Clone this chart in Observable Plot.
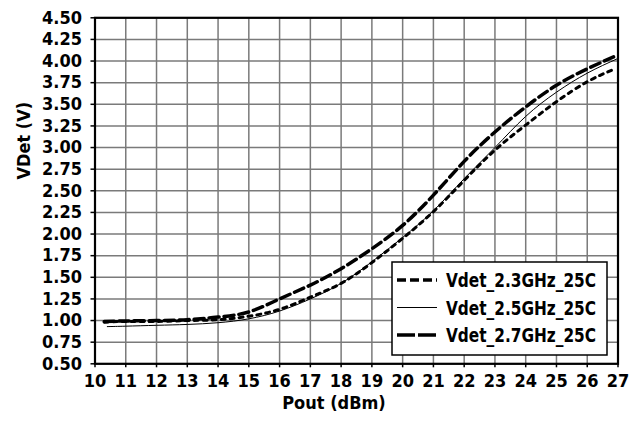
<!DOCTYPE html>
<html><head><meta charset="utf-8">
<script src="https://cdn.jsdelivr.net/npm/d3@7"></script>
<script src="https://cdn.jsdelivr.net/npm/@observablehq/plot@0.6"></script>
<style>body{margin:0;background:#fff}#chart{position:relative;width:636px;height:426px}
svg text{font-stretch:condensed}</style>
</head><body><div id="chart"></div>
<script>
// Data
const pout23 = [10.3, 11, 12, 13, 14, 15, 16, 17, 18, 19, 20, 21, 22, 23, 24, 25, 26, 27];
const vdet23 = [0.99, 0.995, 1.0, 1.01, 1.04, 1.10, 1.25, 1.41, 1.60, 1.83, 2.10, 2.45, 2.84, 3.18, 3.47, 3.72, 3.91, 4.07];
const pout25 = [10.4, 11, 12, 13, 14, 15, 16, 17, 18, 19, 20, 21, 22, 23, 24, 25, 26, 27];
const vdet25 = [0.93, 0.935, 0.945, 0.955, 0.975, 1.02, 1.11, 1.25, 1.43, 1.68, 1.96, 2.27, 2.64, 3.00, 3.36, 3.64, 3.86, 4.03];
const pout27 = [10.3, 11, 12, 13, 14, 15, 16, 17, 18, 19, 20, 21, 22, 23, 24, 25, 26, 26.9];
const vdet27 = [0.98, 0.99, 0.99, 1.0, 1.01, 1.05, 1.13, 1.27, 1.43, 1.67, 1.95, 2.26, 2.62, 2.97, 3.26, 3.53, 3.76, 3.91];
const seriesNames = ["Vdet_2.3GHz_25C", "Vdet_2.5GHz_25C", "Vdet_2.7GHz_25C"];
const xTicks = [10, 11, 12, 13, 14, 15, 16, 17, 18, 19, 20, 21, 22, 23, 24, 25, 26, 27];
const yTicks = [0.5, 0.75, 1.0, 1.25, 1.5, 1.75, 2.0, 2.25, 2.5, 2.75, 3.0, 3.25, 3.5, 3.75, 4.0, 4.25, 4.5];
const xTitle = "Pout (dBm)";
const yTitle = "VDet (V)";

const rows = (px, vy, name) => px.map((p, i) => ({pout: p, vdet: vy[i], name}));
const s23 = rows(pout23, vdet23, seriesNames[0]);
const s25 = rows(pout25, vdet25, seriesNames[1]);
const s27 = rows(pout27, vdet27, seriesNames[2]);

const FONT = "'Liberation Sans Narrow','Arial Narrow','DejaVu Sans Condensed','DejaVu Sans',sans-serif";
const grid = {stroke: "#7a7a7a", strokeOpacity: 1, strokeWidth: 1.5};

const chart = Plot.plot({
  width: 636, height: 426,
  marginLeft: 94.5, marginRight: 18.5, marginTop: 17.3, marginBottom: 62.7,
  style: {fontFamily: FONT, fontWeight: "bold", fontSize: "18px", color: "#000", background: "#fff", overflow: "visible"},
  x: {domain: [10, 27], label: null},
  y: {domain: [0.5, 4.5], label: null},
  marks: [
    Plot.gridX(xTicks, grid),
    Plot.gridY(yTicks, grid),
    Plot.line(s25, {x: "pout", y: "vdet", curve: "natural", stroke: "#000", strokeWidth: 1}),
    Plot.line(s27, {x: "pout", y: "vdet", curve: "natural", stroke: "#000", strokeWidth: 3, strokeDasharray: "4,5"}),
    Plot.line(s23, {x: "pout", y: "vdet", curve: "natural", stroke: "#000", strokeWidth: 3.5, strokeDasharray: "10,5"}),
    Plot.frame({stroke: "#000", strokeWidth: 2.2}),
    Plot.axisX(xTicks, {tickSize: 4, tickPadding: 6, label: null, stroke: "#000", strokeWidth: 1.5}),
    Plot.axisY(yTicks, {tickSize: 4, tickPadding: 9, label: null, tickFormat: d3.format(".2f"), stroke: "#000", strokeWidth: 1.5}),
    Plot.text([xTitle], {frameAnchor: "bottom", dx: -22.5, dy: 45, fontSize: 18, fontWeight: "bold", fill: "#000"}),
    Plot.text([yTitle], {frameAnchor: "left", rotate: -90, dx: -70.5, dy: -11.3, fontSize: 18, fontWeight: "bold", fill: "#000"})
  ]
});
document.getElementById("chart").appendChild(chart);

// Legend (inside plot area, lower right)
const svg = d3.select(chart);
const lg = svg.append("g").attr("font-family", FONT).attr("font-weight", "bold").attr("font-size", 20)
  .attr("text-anchor", "start");
lg.append("rect").attr("x", 392).attr("y", 262).attr("width", 215).attr("height", 93)
  .attr("fill", "#fff").attr("stroke", "#000").attr("stroke-width", 1.5);
const legendStyles = [
  {w: 3.5, dash: "9,4"},
  {w: 1, dash: null},
  {w: 3.5, dash: "18,3"}
];
const rowY = [280, 307.5, 335];
seriesNames.forEach((name, i) => {
  const l = lg.append("line").attr("x1", 397).attr("x2", 437).attr("y1", rowY[i]).attr("y2", rowY[i])
    .attr("stroke", "#000").attr("stroke-width", legendStyles[i].w);
  if (legendStyles[i].dash) l.attr("stroke-dasharray", legendStyles[i].dash);
  lg.append("text").attr("x", 446).attr("y", rowY[i]).attr("dy", "0.36em").attr("fill", "#000")
    .attr("textLength", 150).attr("lengthAdjust", "spacingAndGlyphs").text(name);
});
</script>
</body></html>
